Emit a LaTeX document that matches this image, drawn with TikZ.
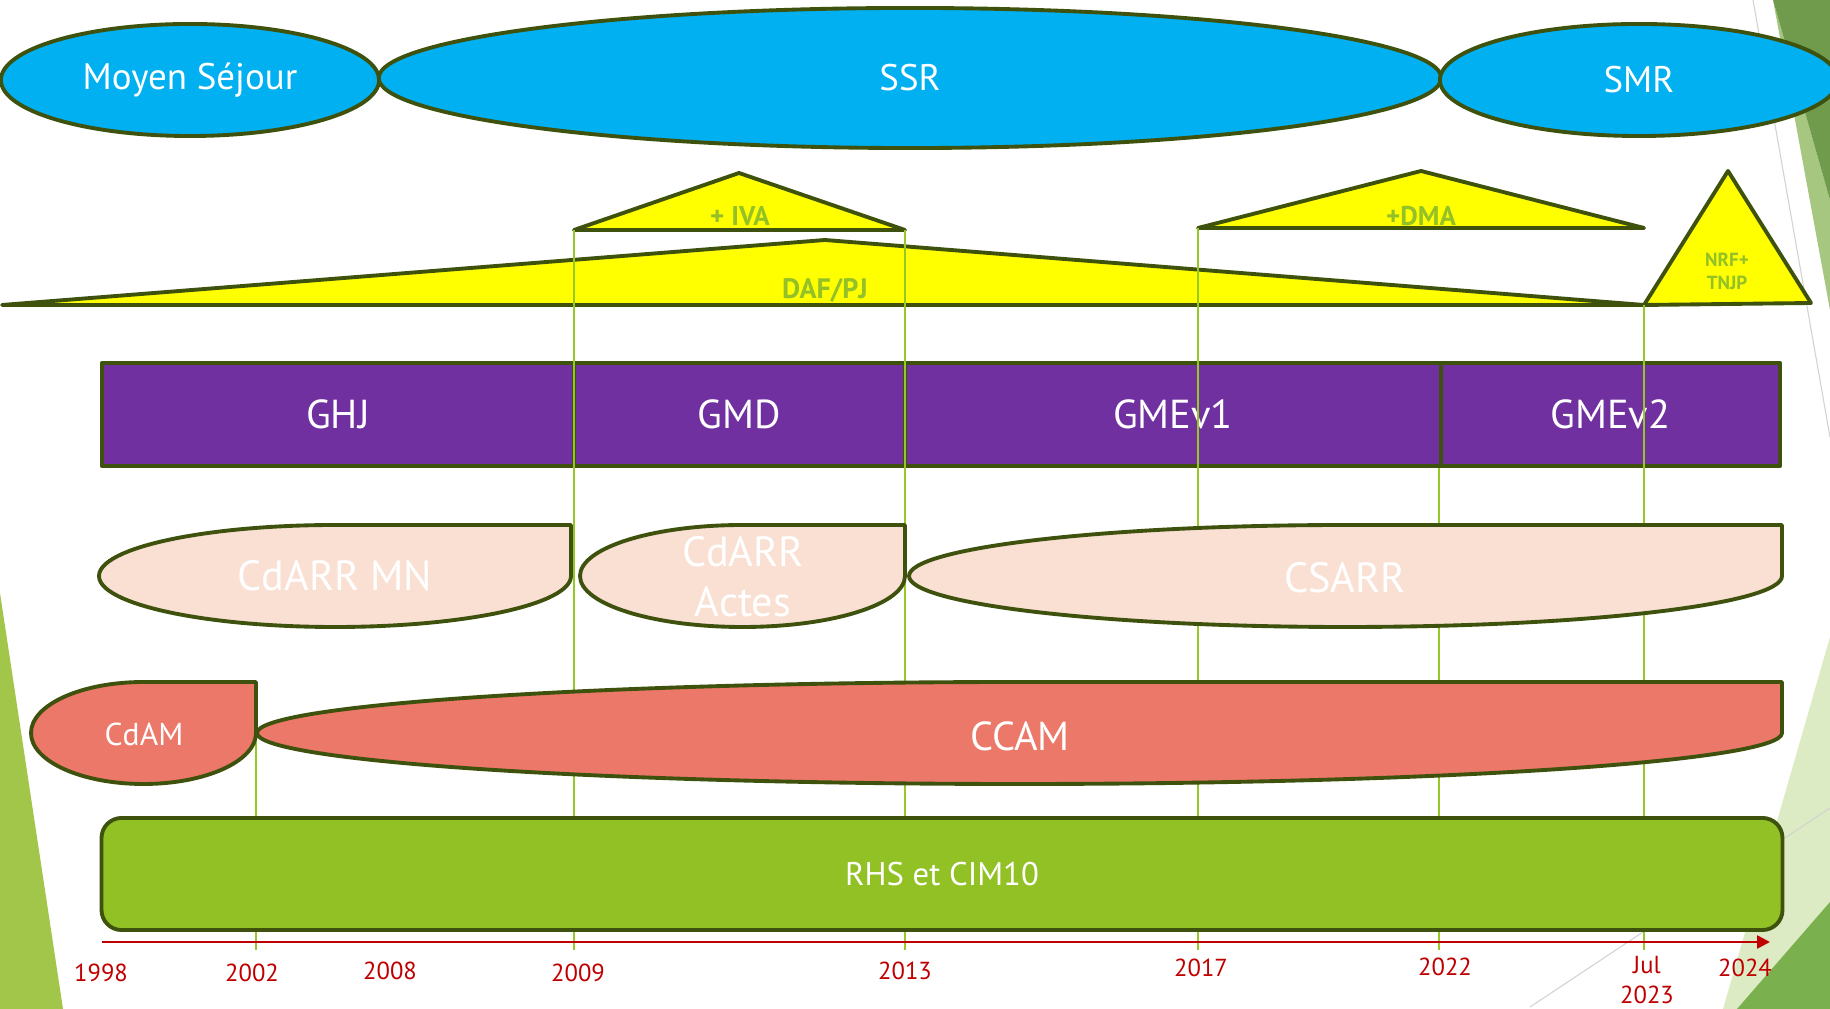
\documentclass[tikz,border=0pt]{standalone}
\usepackage{fontspec}
\setmainfont{PT Sans}
\usepackage{tikz}
\usetikzlibrary{positioning}
\usetikzlibrary{shapes}
\usetikzlibrary{arrows.meta}

\definecolor{edge}{RGB}{62,82,14}
\definecolor{sky}{RGB}{0,176,240}
\definecolor{lemon}{RGB}{255,255,0}
\definecolor{lime}{RGB}{148,192,40}
\definecolor{grape}{RGB}{112,48,160}
\definecolor{peach}{RGB}{249,224,211}
\definecolor{salmon}{RGB}{235,120,104}
\definecolor{leaf}{RGB}{146,193,37}
\definecolor{stem}{RGB}{150,200,40}
\definecolor{dred}{RGB}{192,0,0}
\definecolor{wedge}{RGB}{162,198,74}
\definecolor{facetdark}{RGB}{112,155,76}
\definecolor{facetmid}{RGB}{165,199,127}
\definecolor{facetpale}{RGB}{221,235,196}
\definecolor{facetgreen}{RGB}{122,176,78}

\tikzset{
    outline/.style = {draw = edge, line width = 1.1pt, line join = round},
    period/.style = {outline, ellipse, fill = sky, text = white, inner sep = 0pt,
        minimum height = 1.12cm, font = \fontsize{10.5}{12}\selectfont},
    model/.style = {outline, rectangle, fill = grape, text = white, inner sep = 0pt,
        minimum height = 1.03cm, font = \fontsize{11.5}{13}\selectfont},
    tax/.style = {text = lime, inner sep = 0pt, align = center,
        font = \bfseries\fontsize{7.7}{9}\selectfont},
    rrcode/.style = {outline, fill = peach},
    ccode/.style = {outline, fill = salmon},
    pale/.style = {text = white, inner sep = 0pt, align = center,
        font = \fontsize{12}{14.2}\selectfont},
    year/.style = {text = dred, inner sep = 0pt, align = center,
        font = \fontsize{7}{8.5}\selectfont},
    yearline/.style = {draw = stem, line width = 0.6pt}
}

\begin{document}
\begin{tikzpicture}[x = 0.01cm, y = 0.01cm]
    \useasboundingbox (0,0) rectangle (1830,1009) ;
    \clip (0,0) rectangle (1830,1009) ;
    \fill[white] (0,0) rectangle (1830,1009) ;

    % slide background
    \fill[wedge] (0,416) -- (63,0) -- (0,0) -- cycle ;
    \fill[facetmid] (1773,1009) -- (1830,699) -- (1830,809) -- cycle ;
    \fill[facetdark] (1773,1009) -- (1830,1009) -- (1830,809) -- cycle ;
    \fill[facetpale] (1830,372) -- (1723,0) -- (1830,0) -- cycle ;
    \fill[facetgreen] (1830,107) -- (1737,0) -- (1830,0) -- cycle ;
    \draw[gray!35, line width = 0.3pt] (1753,1009) -- (1830,572) ;
    \draw[gray!35, line width = 0.3pt] (1830,201) -- (1530,2) ;

    % periods
    \node[period, minimum width = 3.78cm] at (190,929) (ms) {Moyen Séjour} ;
    \node[period, minimum width = 10.62cm, minimum height = 1.40cm] at (910,931) (ssr) {SSR} ;
    \node[period, minimum width = 3.98cm] at (1639,929) (smr) {SMR} ;

    % funding
    \coordinate (dafw) at (2,704) ;
    \coordinate (dafe) at (1644,704) ;
    \coordinate (ivaw) at (574,779) ;
    \coordinate (ivae) at (905,779) ;
    \coordinate (dmaw) at (1198,781) ;
    \coordinate (dmae) at (1644,781) ;
    \draw[outline, fill = lemon] (dafw) -- (825,769) -- (dafe) -- cycle ;
    \draw[outline, fill = lemon] (ivaw) -- (739,836) -- (ivae) -- cycle ;
    \draw[outline, fill = lemon] (dmaw) -- (1421,838) -- (dmae) -- cycle ;
    \draw[outline, fill = lemon] (dafe) -- (1728,838) -- (1811,706) -- cycle ;
    \node[tax] at (740,793) (ivalbl) {+ IVA} ;
    \node[tax, font = \bfseries\fontsize{8}{9}\selectfont] at (825,719) (daflbl) {DAF/PJ} ;
    \node[tax] at (1421,793) (dmalbl) {+DMA} ;
    \node[tax, font = \bfseries\fontsize{5.4}{6.5}\selectfont] at (1727,738) (nrflbl) {NRF+\\TNJP} ;

    % groupes
    \node[model, minimum width = 4.72cm] at (338,594.5) (ghj) {GHJ} ;
    \node[model, minimum width = 3.31cm] at (739.5,594.5) (gmd) {GMD} ;
    \node[model, minimum width = 5.36cm] at (1173,594.5) (gme1) {GMEv1} ;
    \node[model, minimum width = 3.39cm] at (1610.5,594.5) (gme2) {GMEv2} ;

    % dates
    \node[year] at (101,36) (y1998) {1998} ;
    \node[year] at (252,36.5) (y2002) {2002} ;
    \node[year] at (390,38) (y2008) {2008} ;
    \node[year] at (578,36) (y2009) {2009} ;
    \node[year] at (905,38) (y2013) {2013} ;
    \node[year] at (1201,41.5) (y2017) {2017} ;
    \node[year] at (1445,42.5) (y2022) {2022} ;
    \node[year] at (1647,29) (y2023) {Jul\\2023} ;
    \node[year] at (1745,41) (y2024) {2024} ;

    \coordinate (foot) at (0,59) ;
    \coordinate (cdamc) at (256,327) ;
    \draw[yearline] (cdamc) -- (cdamc |- foot) ;
    \draw[yearline] (ivaw) -- (ivaw |- foot) ;
    \draw[yearline] (ivae) -- (ivae |- foot) ;
    \draw[yearline] (dmaw) -- (dmaw |- foot) ;
    \draw[yearline] (gme2.south west) -- (gme2.south west |- foot) ;
    \draw[yearline] (dafe) -- (dafe |- foot) ;

    % actes
    \draw[rrcode] (571,433) -- (571,484) -- (335,484)
        arc[start angle = 90, end angle = 360, x radius = 236, y radius = 51] -- cycle ;
    \draw[rrcode] (905,433) -- (905,484) -- (742.5,484)
        arc[start angle = 90, end angle = 360, x radius = 162.5, y radius = 51] -- cycle ;
    \draw[rrcode] (1782,433) -- (1782,484) -- (1345.5,484)
        arc[start angle = 90, end angle = 360, x radius = 436.5, y radius = 51] -- cycle ;
    \node[pale] at (335,433) (cdarrmn) {CdARR MN} ;
    \node[pale] at (743,432) (cdarra) {CdARR\\Actes} ;
    \node[pale] at (1345,431) (csarr) {CSARR} ;

    \draw[ccode] (cdamc) -- (143.5,327)
        arc[start angle = 90, end angle = 360, x radius = 112.5, y radius = 51] -- cycle ;
    \draw[ccode] (1782,276) -- (1782,327) -- (1019.5,327)
        arc[start angle = 90, end angle = 360, x radius = 762.5, y radius = 51] -- cycle ;
    \node[pale, font = \fontsize{9}{11}\selectfont] at (144,275) (cdam) {CdAM} ;
    \node[pale, font = \fontsize{11.5}{13}\selectfont] at (1020,273) (ccam) {CCAM} ;

    % recueil
    \node[outline, fill = leaf, rounded corners = 0.2cm, minimum width = 16.8cm,
        minimum height = 1.12cm, text = white, font = \fontsize{9.3}{11}\selectfont] at (942,135) (rhs) {RHS et CIM10} ;

    \coordinate (axs) at (102,67) ;
    \coordinate (axe) at (1770,67) ;
    \draw[dred, line width = 0.7pt, -{Triangle[length = 0.13cm, width = 0.13cm]}] (axs) -- (axe) ;
\end{tikzpicture}
\end{document}
